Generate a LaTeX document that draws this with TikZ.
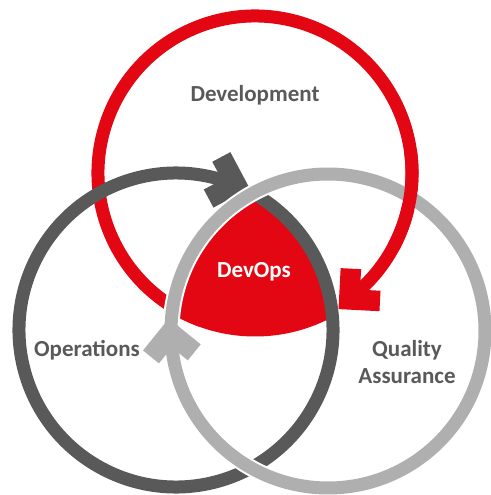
\documentclass[tikz,border=0pt]{standalone}
\usepackage{fontspec}
\setmainfont{Carlito}
\usetikzlibrary{calc}
\definecolor{devred}{RGB}{227,6,19}
\definecolor{opsgray}{RGB}{89,89,89}
\definecolor{qagray}{RGB}{175,175,175}
\definecolor{txtgray}{RGB}{89,89,89}
\tikzset{
  ring/.style={line width=13pt},
  rim/.style={line width=17pt, white},
  venntext/.style={font=\fontsize{23}{27}\selectfont\bfseries, text=txtgray, align=center},
}
\begin{document}
\begin{tikzpicture}[x=1pt, y=1pt]
\useasboundingbox (0,0) rectangle (490,495);
% circle centres
\coordinate (dev) at (255,322);
\coordinate (ops) at (176,165);
\coordinate (qa)  at (328,164);
% DevOps overlap
\begin{scope}
  \clip (ops) circle[radius=157pt];
  \clip (qa) circle[radius=157pt];
  \fill[devred] (dev) circle[radius=163.5pt];
\end{scope}
% Development ring
\draw[ring, devred] (dev) ++(250:157pt) arc[start angle=250, end angle=-49, radius=157pt];
\fill[devred, shift={(dev)}, rotate=-48]
  (157,-29) -- (186,0) -- (171.5,14.5) -- (157,0) -- (142.5,14.5) -- (128,0) -- cycle;
% Operations ring
\draw[ring, opsgray] (ops) ++(421:157pt) arc[start angle=421, end angle=72, radius=157pt];
\fill[opsgray, shift={(ops)}, rotate=73]
  (157,-29) -- (186,0) -- (171.5,14.5) -- (157,0) -- (142.5,14.5) -- (128,0) -- cycle;
% Quality assurance ring
\draw[rim] (qa) ++(538:157pt) arc[start angle=538, end angle=185, radius=157pt];
\draw[ring, qagray] (qa) ++(538:157pt) arc[start angle=538, end angle=185, radius=157pt];
\fill[qagray, shift={(qa)}, rotate=186]
  (157,-29) -- (186,0) -- (171.5,14.5) -- (157,0) -- (142.5,14.5) -- (128,0) -- cycle;
% red passes over grey at top right
\draw[ring, devred] (dev) ++(8:157pt) arc[start angle=8, end angle=-28, radius=157pt];
% labels
\node[venntext] (devlbl) at (255,400) {Development};
\node[venntext, text=white] (devopslbl) at (254,223) {DevOps};
\node[venntext] (opslbl) at (87,145) {Operations};
\node[venntext] (qalbl) at (407,133) {Quality\\Assurance};
\end{tikzpicture}
\end{document}
